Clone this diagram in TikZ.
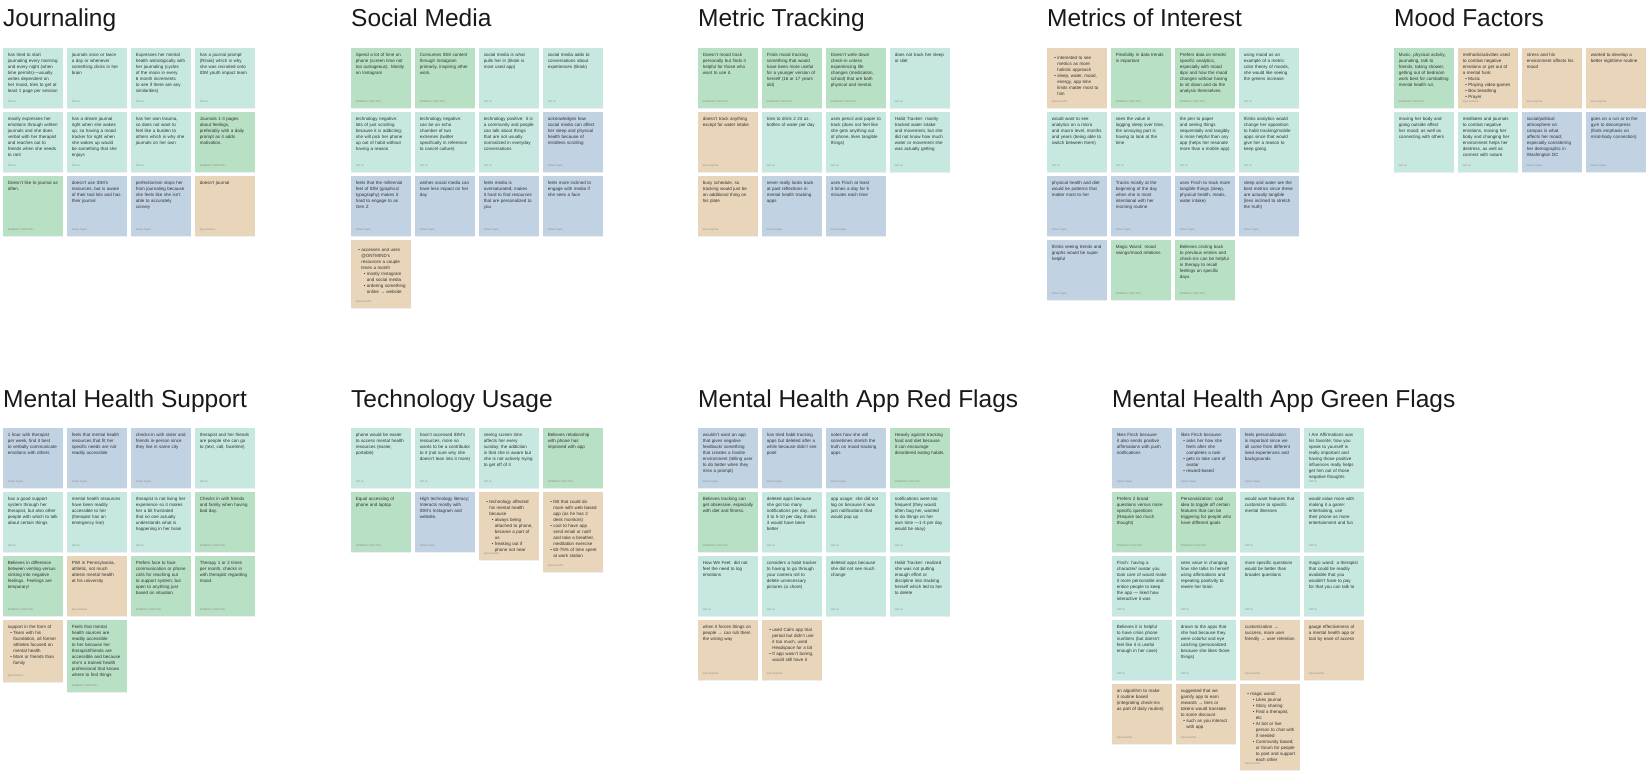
\documentclass[tikz,border=0pt]{standalone}
\usepackage{fontspec}
\setmainfont{Liberation Sans}
\usetikzlibrary{shadows}
\definecolor{cT}{RGB}{198,232,224}
\definecolor{cG}{RGB}{184,224,196}
\definecolor{cB}{RGB}{193,210,227}
\definecolor{cN}{RGB}{232,213,186}
\definecolor{ink}{RGB}{50,50,50}
\newcommand\auT{Jeff Xu}
\newcommand\auG{KIMBERLY NGUYEN}
\newcommand\auB{Daniel Ogutu}
\newcommand\auN{Riya Kotecha}
\hyphenpenalty=10000
\exhyphenpenalty=10000
\newcommand\nohy{\hyphenpenalty=10000\relax\exhyphenpenalty=10000\relax}
\newenvironment{bl}{\begin{list}{\textbullet}{\setlength{\leftmargin}{5.5pt}\setlength{\labelwidth}{3pt}\setlength{\labelsep}{1.5pt}\setlength{\itemsep}{0pt}\setlength{\parsep}{0pt}\setlength{\topsep}{0pt}\setlength{\partopsep}{0pt}\setlength{\itemindent}{0pt}}}{\end{list}}
\tikzset{
  card/.style={anchor=north west, minimum width=60pt, inner sep=0pt, draw=none,
    drop shadow={opacity=0.13, shadow xshift=0pt, shadow yshift=-1pt}},
  txt/.style={anchor=north west, inner sep=0pt, text width=50.5pt, align=left,
    font=\fontsize{4.5}{6}\selectfont, text=ink},
  foot/.style={anchor=base west, inner sep=0pt, font=\fontsize{2.6}{3}\selectfont, text=black!45},
  title/.style={anchor=base west, inner sep=0pt, font=\fontsize{24.5}{28}\selectfont, text=black!90}
}
\newcommand\stk[6][60]{%
  \node[card, fill=c#5, minimum height=#1] (#2) at (#3,#4) {};
  \node[txt] (#2t) at ([xshift=4.7pt,yshift=-5.5pt]#2.north west) {\nohy #6\par};
  \node[foot] (#2f) at ([xshift=4.7pt,yshift=5.5pt]#2.south west) {\csname au#5\endcsname};
}
\begin{document}
\begin{tikzpicture}[x=1pt,y=-1pt]
\useasboundingbox[fill=white] (0,0) rectangle (1649,773);
% ---------------- titles
\node[title] (tJ) at (3,27) {Journaling};
\node[title] (tS) at (351,27) {Social Media};
\node[title] (tM) at (698,27) {Metric Tracking};
\node[title] (tI) at (1047,27) {Metrics of Interest};
\node[title] (tF) at (1394,27) {Mood Factors};
\node[title] (tH) at (3,407) {Mental Health Support};
\node[title] (tU) at (351,407) {Technology Usage};
\node[title] (tR) at (698,407) {Mental Health App Red Flags};
\node[title] (tG) at (1112,407) {Mental Health App Green Flags};
% ---------------- Journaling
\stk{j11}{3}{48}{T}{has tried to start journaling every morning and every night (when time permits)—usually writes dependent on her mood, tries to get at least 1 page per session}
\stk{j12}{67}{48}{T}{journals once or twice a day or whenever something clicks in her brain}
\stk{j13}{131}{48}{T}{Expresses her mental health astrologically with her journaling (cycles of the moon in every 6 month increments to see if there are any similarities)}
\stk{j14}{195}{48}{T}{has a journal prompt (Rinak) which is why she was recruited onto IDM youth impact team}
\stk{j21}{3}{112}{T}{mostly expresses her emotions through written journals and she does verbal with her therapist and reaches out to friends when she needs to rant}
\stk{j22}{67}{112}{T}{has a dream journal right when she wakes up, so having a mood tracker for right when she wakes up would be something that she enjoys}
\stk{j23}{131}{112}{T}{has her own trauma, so does not want to feel like a burden to others which is why she journals on her own}
\stk{j24}{195}{112}{G}{Journals 1-3 pages about feelings, preferably with a daily prompt as it adds motivation.}
\stk{j31}{3}{176}{G}{Doesn't like to journal as often.}
\stk{j32}{67}{176}{B}{doesn't use IDM's resources, but is aware of their tool kits and has their journal}
\stk{j33}{131}{176}{B}{perfectionism stops her from journaling because she feels like she isn't able to accurately convey}
\stk{j34}{195}{176}{N}{doesn't journal}
% ---------------- Social Media
\stk{s11}{351}{48}{G}{Spend a lot of time on phone (screen time not too outrageous). Mostly on Instagram}
\stk{s12}{415}{48}{G}{Consumes IDM content through Instagram primarily, inspiring other work.}
\stk{s13}{479}{48}{T}{social media is what pulls her in (tiktok is most used app)}
\stk{s14}{543}{48}{T}{social media adds to conversations about experiences (tiktok)}
\stk{s21}{351}{112}{T}{technology negative: lots of just scrolling because it is addicting; she will pick her phone up out of habit without having a reason}
\stk{s22}{415}{112}{T}{technology negative: can be an echo chamber of two extremes (twitter specifically in reference to cancel culture)}
\stk{s23}{479}{112}{T}{technology positive: it is a community and people can talk about things that are not usually normalized in everyday conversations}
\stk{s24}{543}{112}{B}{acknowledges how social media can affect her sleep and physical health because of mindless scrolling}
\stk{s31}{351}{176}{B}{feels that the millennial feel of IDM (graphics/ typography) makes it hard to engage to as Gen Z}
\stk{s32}{415}{176}{B}{wishes social media can have less impact on her day}
\stk{s33}{479}{176}{B}{feels media is oversaturated; makes it hard to find resources that are personalized to you}
\stk{s34}{543}{176}{B}{feels more inclined to engage with media if she sees a face}
\stk[68]{s41}{351}{240}{N}{\begin{bl}\item accesses and uses @ONTMIND's resources a couple times a month
\begin{bl}\item mostly Instagram and social media \item ordering something online → website\end{bl}\end{bl}}
% ---------------- Metric Tracking
\stk{m11}{698}{48}{G}{Doesn't mood track personally but finds it helpful for those who want to use it.}
\stk{m12}{762}{48}{G}{Finds mood tracking something that would have been more useful for a younger version of herself (16 or 17 years old)}
\stk{m13}{826}{48}{G}{Doesn't write down check-in unless experiencing life changes (medication, school) that are both physical and mental.}
\stk{m14}{890}{48}{T}{does not track her sleep or diet}
\stk{m21}{698}{112}{N}{doesn't track anything except for water intake}
\stk{m22}{762}{112}{T}{tries to drink 2 24 oz. bottles of water per day}
\stk{m23}{826}{112}{T}{uses pencil and paper to track (does not feel like she gets anything out of phone, likes tangible things)}
\stk{m24}{890}{112}{T}{Habit Tracker: mainly tracked water intake and movement, but she did not know how much water or movement she was actually getting}
\stk{m31}{698}{176}{N}{busy schedule, so tracking would just be an additional thing on his plate}
\stk{m32}{762}{176}{B}{never really looks back at past reflections in mental health tracking apps}
\stk{m33}{826}{176}{B}{uses Finch at least 3 times a day for 5 minutes each time}
% ---------------- Metrics of Interest
\stk{i11}{1047}{48}{N}{\begin{bl}\item interested to see metrics as more holistic approach \item sleep, water, mood, energy, app time limits matter most to him\end{bl}}
\stk{i12}{1111}{48}{G}{Flexibility in data trends is important}
\stk{i13}{1175}{48}{G}{Prefers data on trends/ specific analytics, especially with mood dips and how the mood changes without having to sit down and do the analysis themselves.}
\stk{i14}{1239}{48}{T}{using mood as an example of a metric: color theory of moods, she would like seeing the greens increase}
\stk{i21}{1047}{112}{T}{would want to see analytics on a micro and macro level, months and years (being able to switch between them)}
\stk{i22}{1111}{112}{T}{sees the value in logging sleep over time, the annoying part is having to look at the time}
\stk{i23}{1175}{112}{T}{the pen to paper and seeing things sequentially and tangibly is more helpful than any app (helps her resonate more than a mobile app)}
\stk{i24}{1239}{112}{T}{thinks analytics would change her opposition to habit tracking/mobile apps since that would give her a reason to keep going}
\stk{i31}{1047}{176}{B}{physical health and diet would be patterns that matter most to her}
\stk{i32}{1111}{176}{B}{Tracks mostly at the beginning of the day when she is most intentional with her morning routine}
\stk{i33}{1175}{176}{B}{uses Finch to track more tangible things (sleep, physical health, meals, water intake)}
\stk{i34}{1239}{176}{B}{sleep and water are the best metrics since these are actually tangible (less inclined to stretch the truth)}
\stk{i41}{1047}{240}{B}{thinks seeing trends and graphs would be super helpful}
\stk{i42}{1111}{240}{G}{Magic Wand: mood swings/mood relations}
\stk{i43}{1175}{240}{G}{Believes circling back to previous entries and check-ins can be helpful in therapy to recall feelings on specific days.}
% ---------------- Mood Factors
\stk{f11}{1394}{48}{G}{Music, physical activity, journaling, talk to friends, taking shower, getting out of bedroom work best for combatting mental health rut.}
\stk{f12}{1458}{48}{N}{methods/activities used to combat negative emotions or get out of a mental funk:\begin{bl}\item Music \item Playing video-games \item Box breathing \item Prayer\end{bl}}
\stk{f13}{1522}{48}{N}{stress and his environment affects his mood}
\stk{f14}{1586}{48}{N}{wanted to develop a better nighttime routine}
\stk{f21}{1394}{112}{T}{moving her body and going outside affect her mood; as well as connecting with others}
\stk{f22}{1458}{112}{T}{meditates and journals to combat negative emotions, moving her body and changing her environment helps her destress, as well as connect with nature}
\stk{f23}{1522}{112}{B}{social/political atmosphere on campus is what affects her mood; especially considering her demographic in Washington DC}
\stk{f24}{1586}{112}{B}{goes on a run or to the gym to decompress (finds emphasis on mind-body connection)}
% ---------------- Mental Health Support
\stk{h11}{3}{428}{B}{1 hour with therapist per week, find it best to verbally communicate emotions with others}
\stk{h12}{67}{428}{B}{feels that mental health resources that fit her specific needs are not readily accessible}
\stk{h13}{131}{428}{B}{checks-in with sister and friends in-person since they live in same city}
\stk{h14}{195}{428}{T}{therapist and her friends are people she can go to (text, call, facetime)}
\stk{h21}{3}{492}{T}{has a good support system through her therapist, but also other people with which to talk about certain things}
\stk{h22}{67}{492}{T}{mental health resources have been readily accessible to her (therapist has an emergency line)}
\stk{h23}{131}{492}{T}{therapist is not living her experience so it makes her a bit frustrated that no one actually understands what is happening in her brain}
\stk{h24}{195}{492}{G}{Checks in with friends and family when having bad day.}
\stk{h31}{3}{556}{G}{Believes in difference between venting versus sinking into negative feelings. Feelings are temporary!}
\stk{h32}{67}{556}{N}{PWI in Pennsylvania, athletic, not much attests mental health at his university}
\stk{h33}{131}{556}{G}{Prefers face to face communication or phone calls for reaching out to support system, but open to anything just based on situation.}
\stk{h34}{195}{556}{G}{Therapy 1 or 2 times per month, checks in with therapist regarding mood.}
\stk[62]{h41}{3}{620}{N}{support in the form of\begin{bl}\item Team with his foundation, all former athletes focused on mental health \item Mom or friends than family\end{bl}}
\stk[72]{h42}{67}{620}{G}{Feels that mental health sources are readily accessible to her because her therapist/friends are accessible and because she's a trained health professional that knows where to find things}
% ---------------- Technology Usage
\stk{u11}{351}{428}{T}{phone would be easier to access mental health resources (easier, portable)}
\stk{u12}{415}{428}{T}{hasn't accessed IDM's resources, more so wants to be a contributor to it (not sure why she doesn't lean into it more)}
\stk{u13}{479}{428}{T}{seeing screen time affects her every sunday; the addiction is that she is aware but she is not actively trying to get off of it}
\stk{u14}{543}{428}{G}{Believes relationship with phone has improved with app}
\stk{u21}{351}{492}{G}{Equal accessing of phone and laptop}
\stk{u22}{415}{492}{B}{High technology literacy; Interacts mostly with IDM's Instagram and website.}
\stk[68]{u23}{479}{492}{N}{\begin{bl}\item technology affected his mental health because \begin{bl}\item always being attached to phone, became a part of us \item freaking out if phone not near\end{bl}\end{bl}}
\stk[80]{u24}{543}{492}{N}{\begin{bl}\item felt that could do more with web based app (as he has 2 desk monitors) \item cool to have app send email or notif and take a breather, meditation exercise \item 60-75\% of time spent at work station\end{bl}}
% ---------------- Red Flags
\stk{r11}{698}{428}{B}{wouldn't want an app that gives negative feedback/ something that creates a hostile environment (telling user to do better when they miss a prompt)}
\stk{r12}{762}{428}{B}{has tried habit tracking apps but deleted after a while because didn't see point}
\stk{r13}{826}{428}{B}{notes how she will sometimes stretch the truth on mood tracking apps}
\stk{r14}{890}{428}{G}{Heavily against tracking food and diet because it can encourage disordered eating habits.}
\stk{r21}{698}{492}{G}{Believes tracking can get obsessive, especially with diet and fitness.}
\stk{r22}{762}{492}{T}{deleted apps because she got too many notifications per day...set it to 5-10 per day, thinks 3 would have been better}
\stk{r23}{826}{492}{T}{app usage: she did not log on because it was just notifications that would pop up}
\stk{r24}{890}{492}{T}{notifications were too frequent (they would often bug her, wanted to do things on her own time —1-3 per day would be okay)}
\stk{r31}{698}{556}{T}{How We Feel: did not feel the need to log emotions}
\stk{r32}{762}{556}{T}{considers a habit tracker to having to go through your camera roll to delete unnecessary pictures (a chore)}
\stk{r33}{826}{556}{T}{deleted apps because she did not see much change}
\stk{r34}{890}{556}{T}{Habit Tracker: realized she was not putting enough effort or discipline into tracking herself which led to her to delete}
\stk{r41}{698}{620}{N}{when it forces things on people → can rub them the wrong way}
\stk{r42}{762}{620}{N}{\begin{bl}\item used Calm app trial period but didn't use it too much, used Headspace for a bit \item If app wasn't boring, would still have it\end{bl}}
% ---------------- Green Flags
\stk{g11}{1112}{428}{B}{likes Finch because it also sends positive affirmations with push notifications}
\stk{g12}{1176}{428}{B}{likes Finch because:\begin{bl}\item asks her how she feels after she completes a task \item gets to take care of avatar \item reward-based\end{bl}}
\stk{g13}{1240}{428}{B}{feels personalization is important since we all come from different lived experiences and backgrounds}
\stk{g14}{1304}{428}{T}{I Am Affirmations was his favorite; how you speak to yourself is really important and having those positive influences really helps get him out of those negative thoughts}
\stk{g21}{1112}{492}{G}{Prefers 2 broad questions versus more specific questions (Require too much thought)}
\stk{g22}{1176}{492}{G}{Personalization: cool idea to toggle off certain features that can be triggering for people who have different goals}
\stk{g23}{1240}{492}{T}{would want features that customize to specific mental illnesses}
\stk{g24}{1304}{492}{T}{would value more with making it a game: entertaining, use their phone as more entertainment and fun}
\stk{g31}{1112}{556}{T}{Finch: having a character/ avatar you took care of would make it more personable and entice people to keep the app — liked how interactive it was}
\stk{g32}{1176}{556}{T}{sees value in changing how she talks to herself using affirmations and repeating positivity to rewire her brain}
\stk{g33}{1240}{556}{T}{more specific questions would be better than broader questions}
\stk{g34}{1304}{556}{T}{magic wand: a therapist that could be readily available that you wouldn't have to pay for that you can talk to}
\stk{g41}{1112}{620}{T}{Believes it is helpful to have crisis phone numbers (but doesn't feel like it is useful enough in her case)}
\stk{g42}{1176}{620}{T}{drawn to the apps that she had because they were colorful and eye catching (personalized because she likes those things)}
\stk{g43}{1240}{620}{N}{customization → success, more user friendly → user retention}
\stk{g44}{1304}{620}{N}{gauge effectiveness of a mental health app or tool by ease of access}
\stk{g51}{1112}{684}{N}{an algorithm to make it routine based (integrating check-ins as part of daily routine)}
\stk{g52}{1176}{684}{N}{suggested that we gamify app to earn rewards → tiers or tokens would translate to some discount\begin{bl}\item such as you interact with app\end{bl}}
\stk[86]{g53}{1240}{684}{N}{\begin{bl}\item magic wand:\begin{bl}\item Likes journal \item Story sharing \item Find a therapist, etc \item AI bot or live person to chat with if needed \item Community based; or forum for people to post and support each other\end{bl}\end{bl}}
\end{tikzpicture}
\end{document}
